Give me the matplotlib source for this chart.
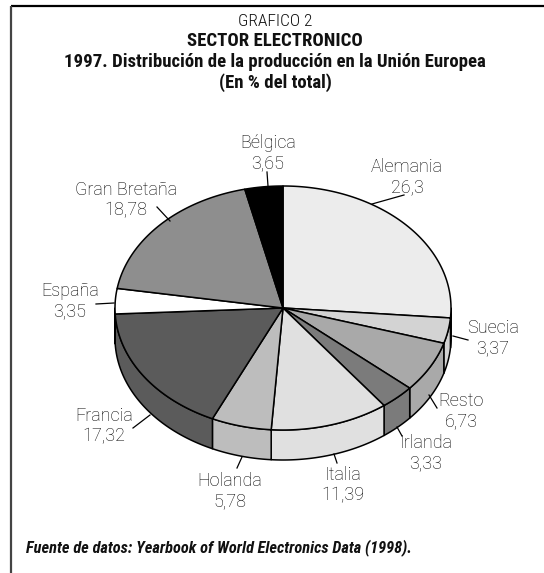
import numpy as np
import matplotlib
matplotlib.use('Agg')
import matplotlib.pyplot as plt
from matplotlib import font_manager
from matplotlib.patches import Polygon

# Datos del grafico (en % del total), en el orden de las agujas del reloj desde arriba
paises = ['Alemania', 'Suecia', 'Resto', 'Irlanda', 'Italia', 'Holanda',
          'Francia', 'España', 'Gran Bretaña', 'Bélgica']
valores = [26.3, 3.37, 6.73, 3.33, 11.39, 5.78, 17.32, 3.35, 18.78, 3.65]
colores = ['#ececec', '#d3d3d3', '#a9a9a9', '#7b7b7b', '#e0e0e0', '#bdbdbd',
           '#5b5b5b', '#ffffff', '#8e8e8e', '#000000']

titulo = ['GRAFICO 2', 'SECTOR ELECTRONICO',
          '1997. Distribución de la producción en la Unión Europea',
          '(En % del total)']
fuente = 'Fuente de datos: Yearbook of World Electronics Data (1998).'

# posiciones de las etiquetas y lineas guia (pixeles)
pos_etiquetas = [(407, 177), (493, 338), (461, 411), (426, 453), (343, 485),
                 (230, 491), (104, 426), (70, 301), (126, 200), (268, 153)]
guias = [((404, 195), (372, 204)), ((468, 340), (453, 336)), ((437, 408), (429, 395)),
         ((402, 436), (397, 427)), ((337, 463), (334, 454)), ((237, 468), (242, 457)),
         ((133, 428), (150, 415)), ((96, 304), (114, 303)), ((157, 207), (170, 221)),
         ((267, 172), (268, 186))]


def elegir(fams):
    disponibles = {f.name for f in font_manager.fontManager.ttflist}
    for f in fams:
        if f in disponibles:
            return f
    return 'DejaVu Sans'


f_narrow = elegir(['Roboto Condensed', 'Liberation Sans Narrow', 'Liberation Sans'])
f_light = elegir(['Roboto', 'Lato', 'Open Sans', 'DejaVu Sans'])

# geometria de la tarta 3D
cx, cy, a, b, prof = 283, 308, 168, 122, 30


def punto(phi, dy=0):
    r = np.radians(phi)
    return cx + a * np.cos(r), cy - b * np.sin(r) + dy


fig = plt.figure(figsize=(5.44, 5.73), dpi=100)
ax = fig.add_axes([0, 0, 1, 1])
ax.set_xlim(0, 544)
ax.set_ylim(573, 0)
ax.axis('off')

# marco
ax.plot([11, 544], [6, 6], color='black', lw=1.6, solid_capstyle='butt')
ax.plot([11, 11], [6, 573], color='#444444', lw=1.6, solid_capstyle='butt')

acum = np.concatenate([[0], np.cumsum(valores)]) / sum(valores)
inicio = 90 - 360 * acum[:-1]
fin = 90 - 360 * acum[1:]

# caras laterales (solo la mitad frontal)
for s, e, c in zip(inicio, fin, colores):
    hi, lo = min(s, 0), max(e, -180)
    if hi <= lo:
        continue
    t = np.linspace(hi, lo, 60)
    arriba = [punto(p) for p in t]
    abajo = [punto(p, prof) for p in t[::-1]]
    ax.add_patch(Polygon(arriba + abajo, closed=True, facecolor=c,
                         edgecolor='black', lw=1.1, joinstyle='round'))

# cara superior
for s, e, c in zip(inicio, fin, colores):
    t = np.linspace(s, e, 100)
    pts = [(cx, cy)] + [punto(p) for p in t]
    ax.add_patch(Polygon(pts, closed=True, facecolor=c, edgecolor='black',
                         lw=1.1, joinstyle='round'))

# etiquetas
for nombre, v, (x, y) in zip(paises, valores, pos_etiquetas):
    txt = nombre + '\n' + ('%g' % v).replace('.', ',')
    ax.text(x, y, txt, ha='center', va='center', fontsize=13,
            family=f_light, fontweight='light', linespacing=1.12, color='black')

for (p1, p2) in guias:
    ax.plot([p1[0], p2[0]], [p1[1], p2[1]], color='black', lw=0.9)

# titulos
ax.text(275, 21, titulo[0], ha='center', va='center', fontsize=12.5,
        family=f_narrow, fontweight='light', color='#111111')
for txt, y in zip(titulo[1:], [41, 62, 83]):
    ax.text(275, y, txt, ha='center', va='center', fontsize=13.5,
            family=f_narrow, fontweight='bold', color='#111111')

ax.text(26, 548, fuente, ha='left', va='center', fontsize=11.8,
        family=f_narrow, fontweight='bold', style='italic', color='#111111')

fig.savefig('out.png', dpi=100)
